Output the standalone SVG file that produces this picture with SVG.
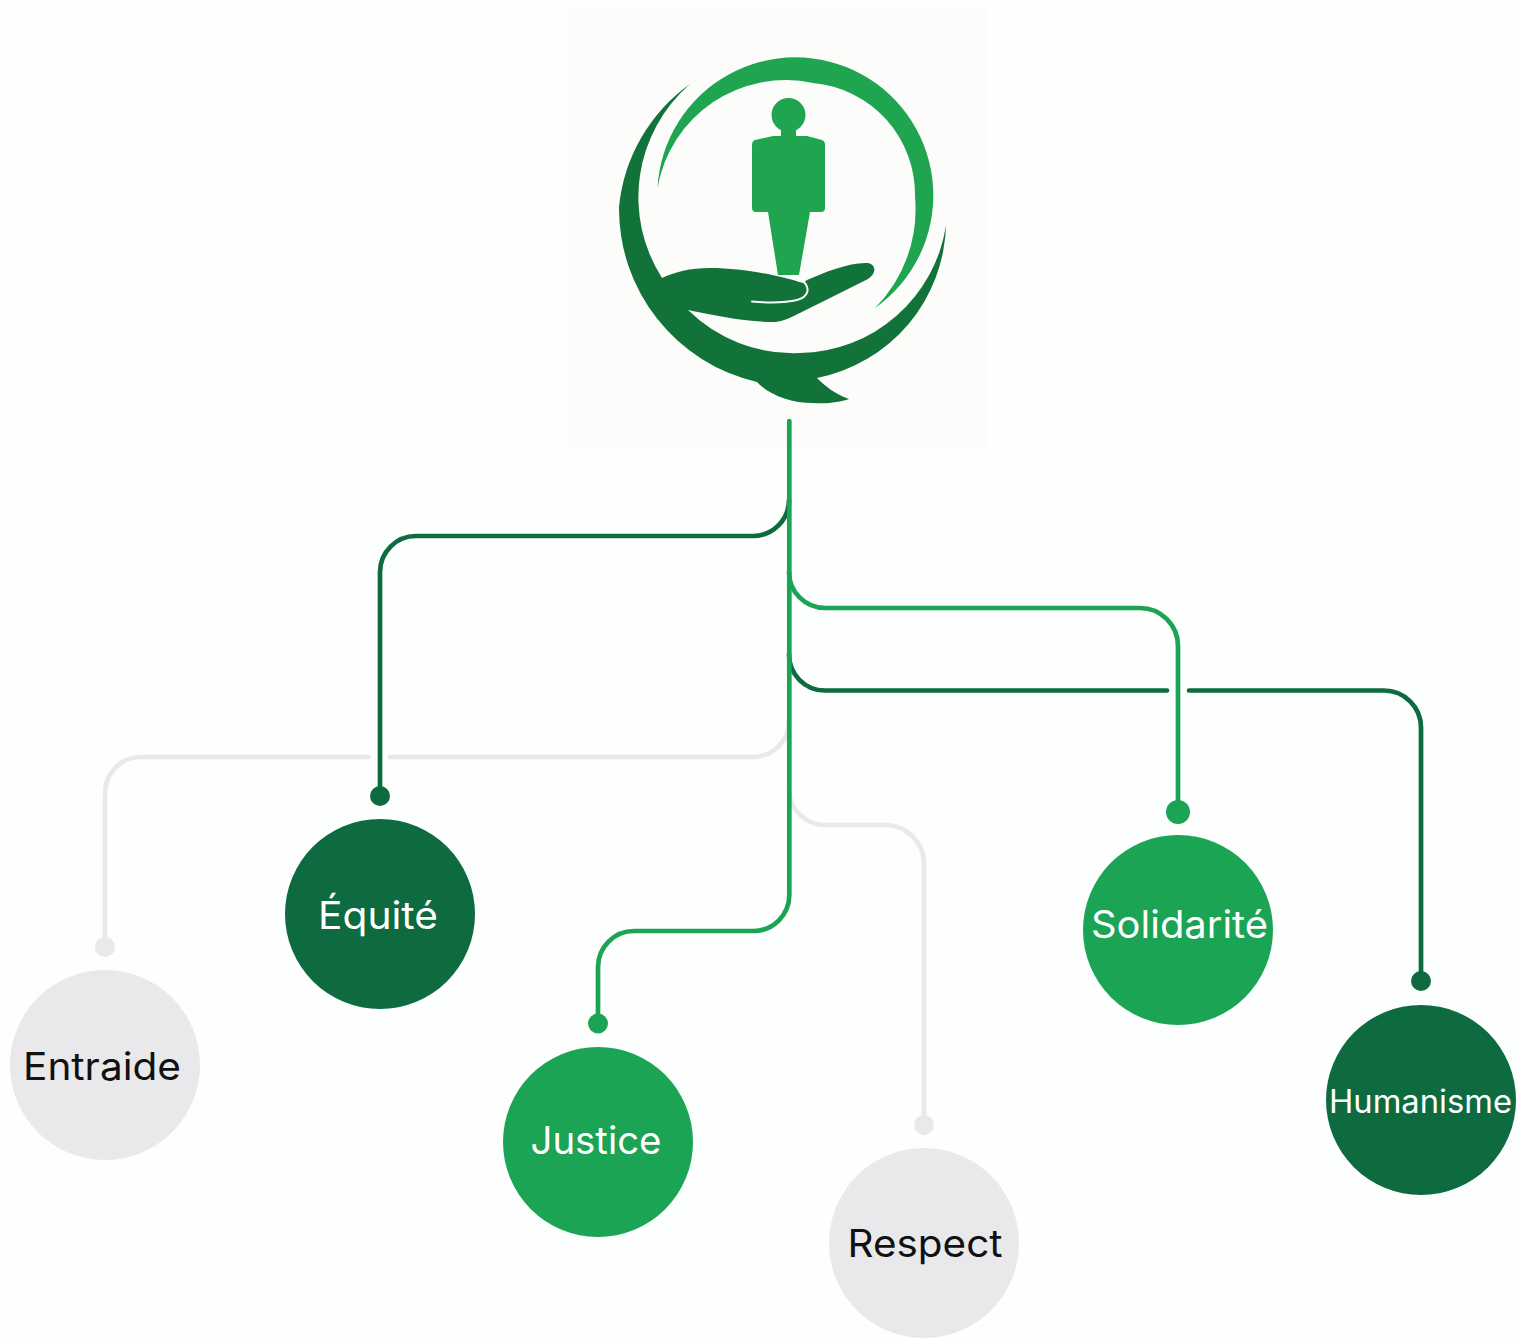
<svg xmlns="http://www.w3.org/2000/svg" width="1517" height="1338" viewBox="0 0 1517 1338">
<style>
.c{fill:none;stroke-width:4.700;stroke-linecap:round;stroke-linejoin:round}
.dk{stroke:#0d6b3f}.md{stroke:#1aa454}.lt{stroke:#e9e8eb}
.fdk{fill:#0d6b3f}.fmd{fill:#1aa454}.flt{fill:#e9e8eb}
text{font-family:"Inter","Liberation Sans",sans-serif;font-size:38px;text-anchor:middle}
.w{fill:#fff}.b{fill:#111}
</style>
<rect width="1517" height="1338" fill="#fdfefe"/>
<g id="logo">
<rect x="566" y="8" width="421" height="439" fill="#fcfcfb"/>
<path id="logo-ring" fill="#1fa550" d="M657.500 188A138 138 0 1 1 875 308A140 140 0 0 0 915 197A112 112 0 0 0 813 83A130 130 0 0 0 657.500 188Z"/>
<path id="logo-swoosh" fill="#12733a" d="M690 84A172 172 0 0 0 619 207A178 178 0 0 0 757 382C768 394 790 403 813 403C828 404 840 402 849 399C835 394 825 386 817 378A160 160 0 0 0 946 225A150 150 0 0 1 800 353A150 150 0 0 1 688 310C712 315 745 322 773 322C785 322 795 315 820 303L868 279C876 274 877 265 868 263C850 262 825 272 807 280L803 283C780 276 745 268 710 268C690 268 675 272 662 278A150 150 0 0 1 690 84Z"/>
<path fill="none" stroke="#fcfcfb" stroke-width="2" stroke-linecap="round" d="M752 301.500C770 303 785 303 797 300C808 297 811 289 803 281"/>
<g id="logo-person" fill="#1fa550">
<circle cx="788.500" cy="115" r="17"/>
<path d="M781 128H796V136H807L822 140Q825 141 825 145V208Q825 212 821 212H810L799 275H778L768 212H756Q752 212 752 208V145Q752 141 755 140L773 136H781Z"/>
</g>
</g>
<g id="connectors">
<path class="c lt" d="M789 721A36 36 0 0 1 753 757H390"/>
<path class="c lt" d="M369 757H141A36 36 0 0 0 105 793V947"/>
<path class="c lt" d="M789 789A36 36 0 0 0 825 825H885A39 39 0 0 1 924 864V1125"/>
<path class="c dk" d="M789 500A36 36 0 0 1 753 536H416A36 36 0 0 0 380 572V796"/>
<path class="c md" d="M789 572A36 36 0 0 0 825 608H1140A38 38 0 0 1 1178 646V812"/>
<path class="c dk" d="M789 654A36 36 0 0 0 825 690.500H1167"/>
<path class="c dk" d="M1189 690.500H1384A37 37 0 0 1 1421 727.500V981"/>
<path class="c md" d="M789.300 421V895A36 36 0 0 1 753 931H634A36 36 0 0 0 598 967V1023"/>
</g>
<g id="node-entraide"><circle class="flt" cx="105" cy="947" r="10"/><circle class="flt" cx="105" cy="1065" r="95"/><text class="b" x="102" y="1079.500" textLength="158" lengthAdjust="spacingAndGlyphs">Entraide</text></g>
<g id="node-equite"><circle class="fdk" cx="380" cy="796" r="10"/><circle class="fdk" cx="380" cy="914" r="95"/><text class="w" x="378" y="928.500" textLength="120" lengthAdjust="spacingAndGlyphs">Équité</text></g>
<g id="node-justice"><circle class="fmd" cx="598" cy="1023.500" r="10"/><circle class="fmd" cx="598" cy="1142" r="95"/><text class="w" x="596" y="1154" textLength="131" lengthAdjust="spacingAndGlyphs">Justice</text></g>
<g id="node-respect"><circle class="flt" cx="924" cy="1125" r="10"/><circle class="flt" cx="924" cy="1243" r="95"/><text class="b" x="925" y="1256.500" textLength="155" lengthAdjust="spacingAndGlyphs">Respect</text></g>
<g id="node-solidarite"><circle class="fmd" cx="1178" cy="812" r="12"/><circle class="fmd" cx="1178" cy="930" r="95"/><text class="w" x="1179.500" y="937.500" textLength="177" lengthAdjust="spacingAndGlyphs">Solidarité</text></g>
<g id="node-humanisme"><circle class="fdk" cx="1421" cy="981" r="10"/><circle class="fdk" cx="1421" cy="1100" r="95"/><text class="w" x="1420.500" y="1112.500" textLength="183" lengthAdjust="spacingAndGlyphs" style="font-size:32px">Humanisme</text></g>
</svg>
